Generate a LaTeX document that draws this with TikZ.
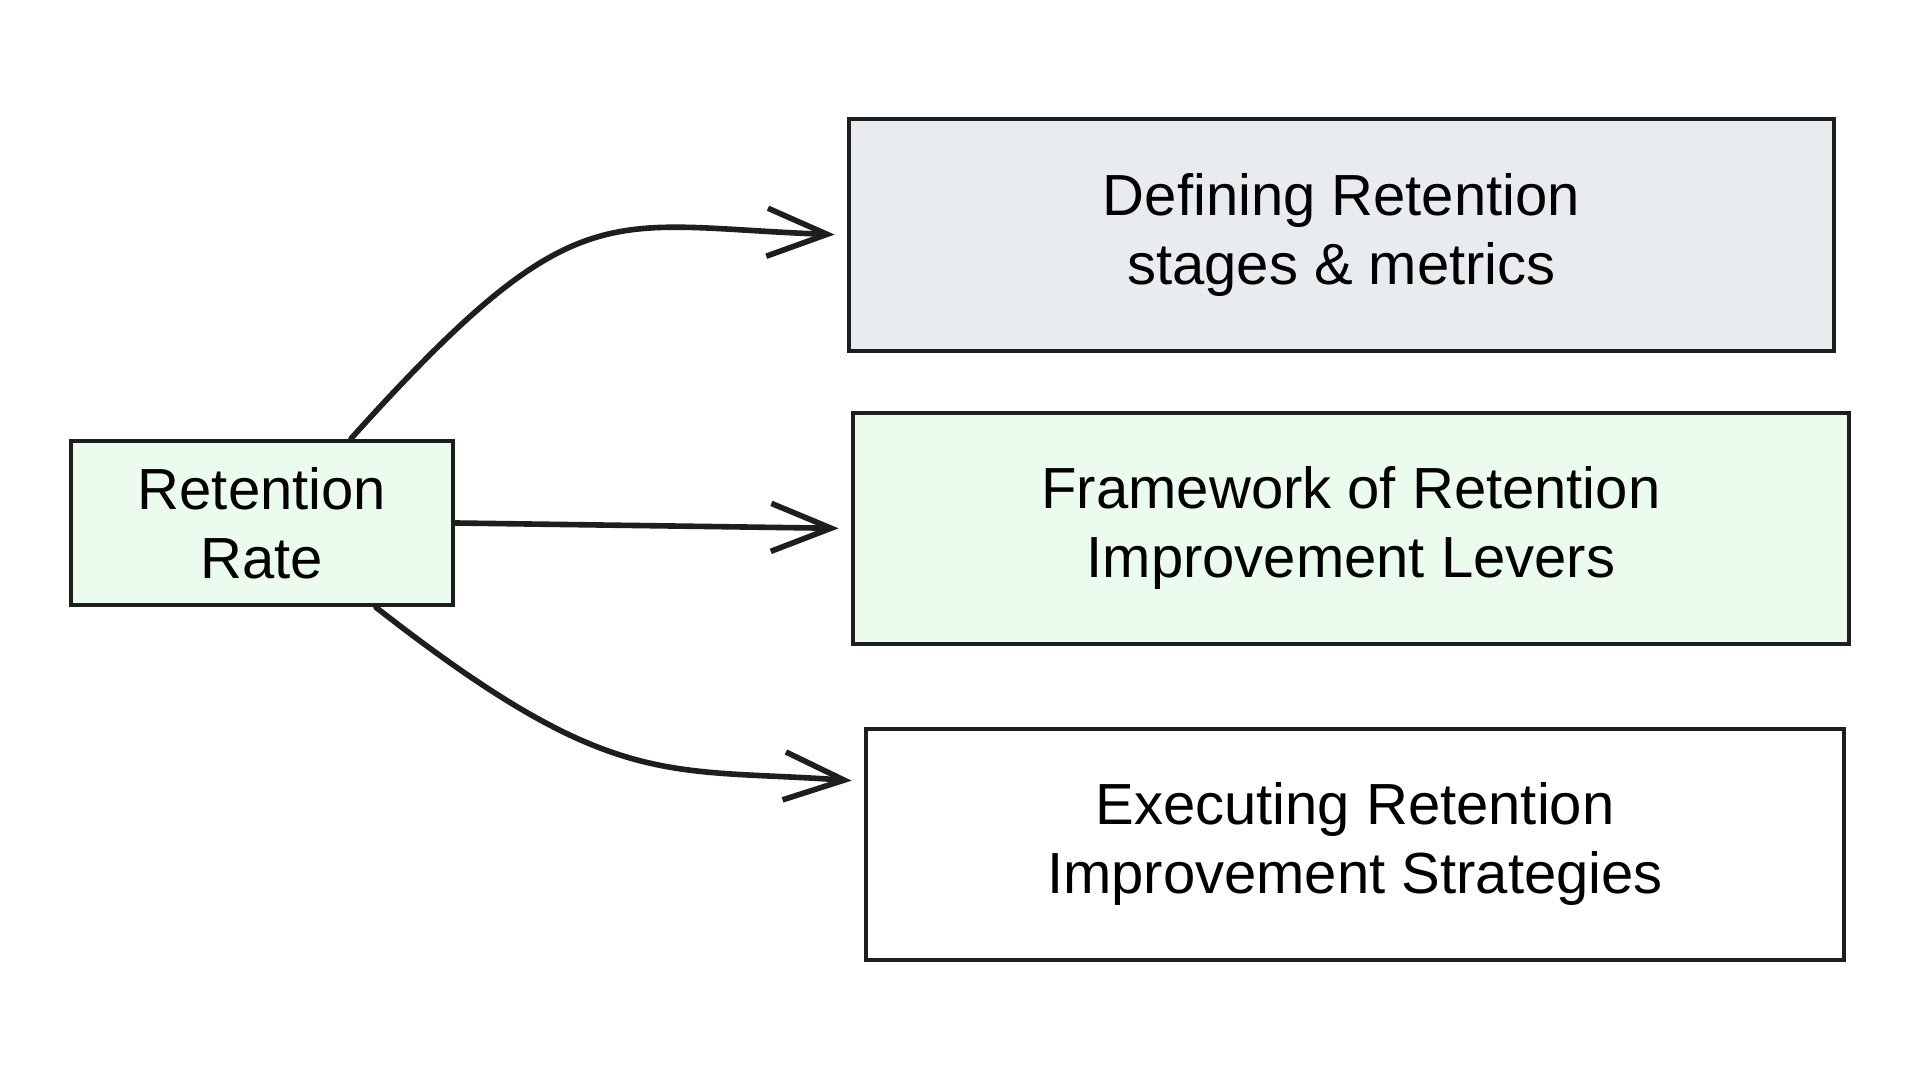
\documentclass[tikz,border=0pt]{standalone}
\usepackage{fontspec}
\setmainfont{Liberation Sans}
\usetikzlibrary{arrows.meta}
\definecolor{strokeColor}{HTML}{1E1E1E}
\definecolor{greenFill}{HTML}{EBFBEE}
\definecolor{greyFill}{HTML}{E9ECEF}
\tikzstyle{canvas} = [x = 0.5pt, y = 0.5pt]
\tikzstyle{boxStyle} = [draw=strokeColor, line width=2.4pt, align=center, inner sep=0pt, font=\fontsize{29}{34.5}\selectfont]
\tikzstyle{leverArrow} = [draw=strokeColor, line width=2.8pt, line cap=round, -{Straight Barb[length=30pt, width=24pt]}, shorten >=6pt]
\newcommand{\stageBox}[6]{\node [boxStyle, fill=#3, minimum width=#4, minimum height=#5] (#1) at (#2) {#6};}

\begin{document}
\begin{tikzpicture}[canvas]
  \useasboundingbox [fill=white] (0,0) rectangle (1920,1080);
  \stageBox{rate}{262,557}{greenFill}{191pt}{82pt}{Retention\\Rate}
  \stageBox{metrics}{1341.5,845}{greyFill}{492.5pt}{116pt}{Defining Retention\\stages \& metrics}
  \stageBox{levers}{1351,551.5}{greenFill}{498pt}{115.5pt}{Framework of Retention\\Improvement Levers}
  \stageBox{strategies}{1355,235.5}{white}{489pt}{115.5pt}{Executing Retention\\Improvement Strategies}

  \coordinate (rateTop) at ([xshift=44.5pt]rate.north);
  \coordinate (rateBottom) at ([xshift=57pt]rate.south);
  \coordinate (strategiesIn) at ([yshift=31.5pt]strategies.west);
  \draw [leverArrow] (rateTop) .. controls +(48:340) and +(178:240) .. (metrics.west);
  \draw [leverArrow] (rate.east) -- (levers.west);
  \draw [leverArrow] (rateBottom) .. controls +(-38:300) and +(176:200) .. (strategiesIn);
\end{tikzpicture}
\end{document}
